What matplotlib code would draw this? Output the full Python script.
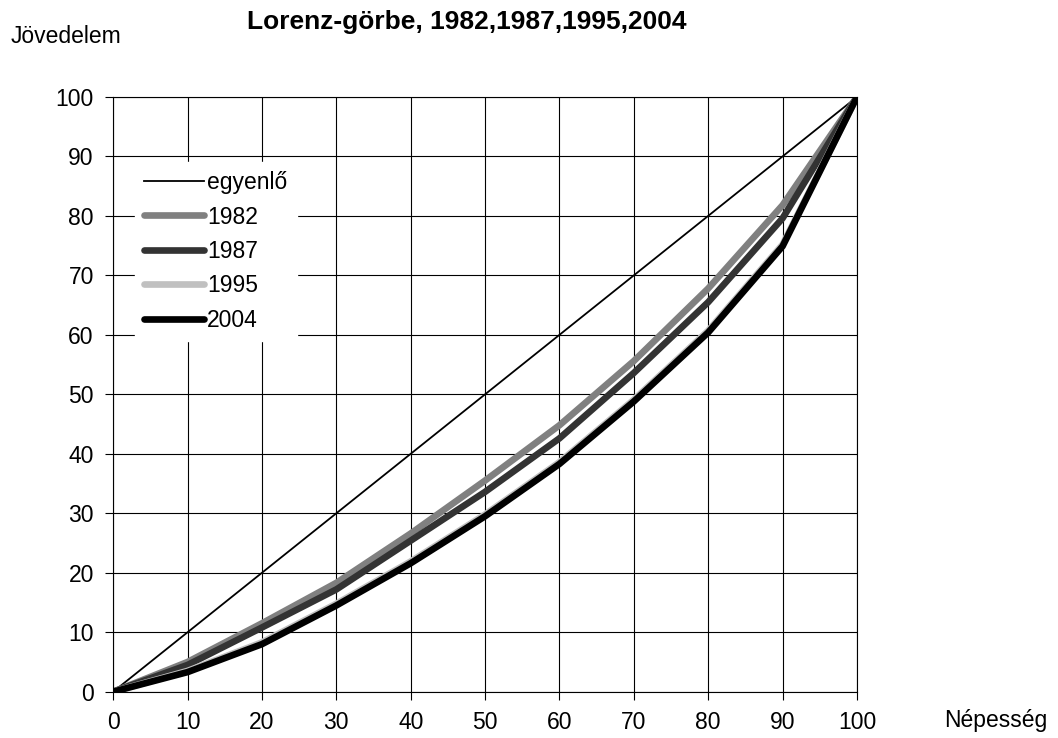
import matplotlib.pyplot as plt

plt.rcParams["font.family"] = ["Liberation Sans", "DejaVu Sans"]

population = [0, 10, 20, 30, 40, 50, 60, 70, 80, 90, 100]
equal = [0, 10, 20, 30, 40, 50, 60, 70, 80, 90, 100]
income_1982 = [0, 5.0, 11.5, 18.3, 26.6, 35.5, 44.8, 55.6, 67.8, 81.8, 100]
income_1987 = [0, 4.5, 10.8, 17.2, 25.4, 33.6, 42.6, 53.6, 65.5, 79.6, 100]
income_1995 = [0, 3.5, 8.3, 14.8, 21.9, 29.8, 38.6, 49.1, 60.7, 75.2, 100]
income_2004 = [0, 3.3, 8.0, 14.5, 21.6, 29.5, 38.3, 48.8, 60.4, 74.9, 100]

fig = plt.figure(figsize=(10.58, 7.38), dpi=100)
ax = fig.add_axes([0.107, 0.0627, 0.703, 0.806])

ax.plot(population, equal, color="black", linewidth=1.3, label="egyenlő")
ax.plot(population, income_1982, color="#808080", linewidth=4.8, label="1982",
        solid_capstyle="round")
ax.plot(population, income_1987, color="#333333", linewidth=4.8, label="1987",
        solid_capstyle="round")
ax.plot(population, income_1995, color="#c0c0c0", linewidth=4.8, label="1995",
        solid_capstyle="round")
ax.plot(population, income_2004, color="black", linewidth=4.8, label="2004",
        solid_capstyle="round")

ax.set_xlim(0, 100)
ax.set_ylim(0, 100)
ax.set_xticks(range(0, 101, 10))
ax.set_yticks(range(0, 101, 10))
ax.grid(True, color="black", linewidth=0.8)
ax.set_axisbelow(True)
ax.tick_params(direction="out", length=6, width=0.8, pad=8, labelsize=16.5,
               color="black")
for spine in ax.spines.values():
    spine.set_color("black")
    spine.set_linewidth(0.8)

leg = ax.legend(loc="upper left", bbox_to_anchor=(0.014, 0.91), fontsize=16.5,
                frameon=True, fancybox=False, handlelength=2.6,
                handletextpad=0.15, labelspacing=0.5, borderpad=0.4)
leg.get_frame().set_edgecolor("white")
leg.get_frame().set_facecolor("white")
leg.get_frame().set_alpha(1)

fig.text(0.441, 0.970, "Lorenz-görbe, 1982,1987,1995,2004", ha="center",
         va="center", fontsize=19, fontweight="bold")
fig.text(0.010, 0.951, "Jövedelem", ha="left", va="center", fontsize=16.5)
fig.text(0.892, 0.024, "Népesség", ha="left", va="center", fontsize=16.5)

plt.savefig("out.png", dpi=100)
plt.close()
